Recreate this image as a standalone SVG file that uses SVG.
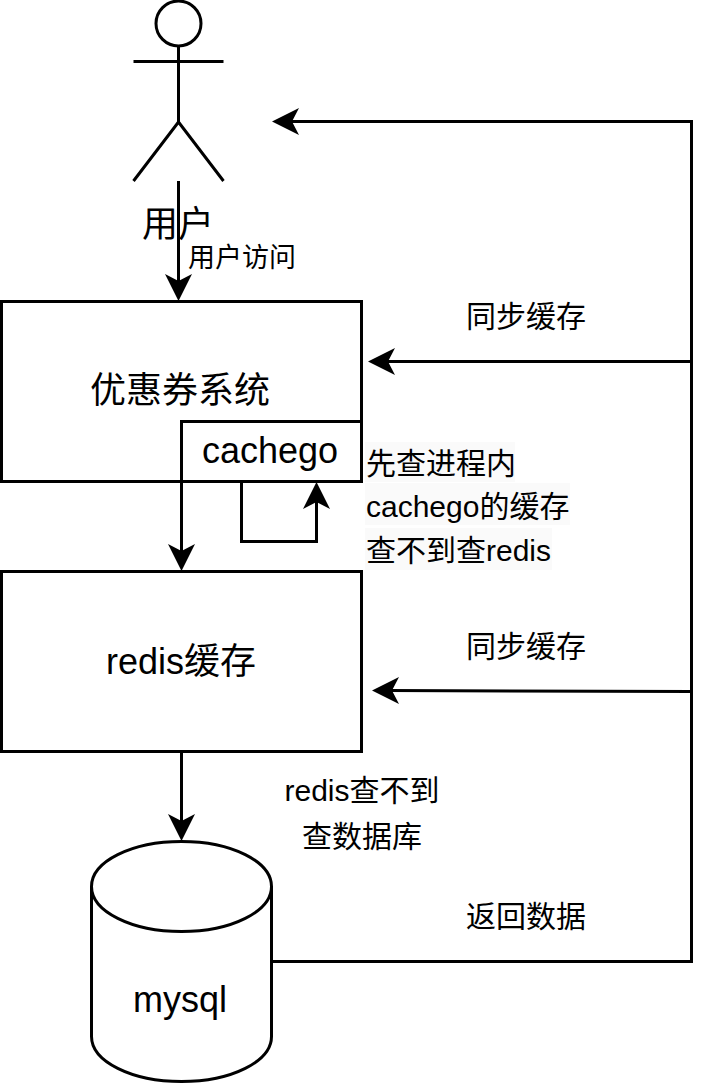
<svg xmlns="http://www.w3.org/2000/svg" width="717" height="1083" viewBox="0 0 717 1083">
<style>
text{font-family:"Liberation Sans","Noto Sans CJK SC",sans-serif;fill:#000}
.s{fill:none;stroke:#000;stroke-width:3}
.b{fill:#fff;stroke:#000;stroke-width:3}
.a{fill:#000;stroke:none}
.bg{fill:#fafafa}
.t36{font-size:36px;text-anchor:middle}
.t30{font-size:30px;text-anchor:middle}
.l{font-size:30px}
</style>
<rect width="717" height="1083" fill="#fff"/>
<g id="user"><circle class="s" cx="178.500" cy="23.500" r="22.500"/><path class="s" d="M178.500 46V122M133.500 61.500H223.500M133.500 181L178.500 122L223.500 181"/><text class="t36" x="178" y="237">用户</text></g>
<g id="coupon"><rect class="b" x="1.500" y="301.500" width="360" height="180"/><text class="t36" x="180" y="403">优惠券系统</text></g>
<g id="cachego"><rect class="b" x="181.500" y="421.500" width="180" height="60"/><text class="t36" x="270" y="463">cachego</text></g>
<g id="redis"><rect class="b" x="1.500" y="571.500" width="360" height="180"/><text class="t36" x="181" y="674">redis缓存</text></g>
<g id="mysql"><path class="b" d="M91.500 886.500C91.500 861.500 131.500 841.500 181.500 841.500C231.500 841.500 271.500 861.500 271.500 886.500V1036.500C271.500 1061.500 231.500 1081.500 181.500 1081.500C131.500 1081.500 91.500 1061.500 91.500 1036.500Z"/><path class="s" d="M91.500 886.500C91.500 911.500 131.500 931.500 181.500 931.500C231.500 931.500 271.500 911.500 271.500 886.500"/><text class="t36" x="180" y="1012">mysql</text></g>
<g id="connectors">
<path class="s" d="M178.500 181V285"/><path class="a" d="M178.500 301L165 274L178.500 281L192 274Z"/>
<path class="s" d="M181.500 481V555"/><path class="a" d="M181.500 571L168 544L181.500 551L195 544Z"/>
<path class="s" d="M241.500 481V541.500H316.500V498"/><path class="a" d="M316.500 482L330 509L316.500 502L303 509Z"/>
<path class="s" d="M181.500 751V825"/><path class="a" d="M181.500 841L168 814L181.500 821L195 814Z"/>
<path class="s" d="M271.500 961.500H691.500V121.500H288"/><path class="a" d="M272 121.500L299 108L292 121.500L299 135Z"/>
<path class="s" d="M691.500 361.500H384"/><path class="a" d="M368 361.500L395 348L388 361.500L395 375Z"/>
<path class="s" d="M691.500 691.500L388 690.500"/><path class="a" d="M372 690.500L399 677L392 690.500L399 704Z"/>
</g>
<g id="labels">
<text x="242" y="267" style="font-size:27px;text-anchor:middle">用户访问</text>
<text class="t30" x="526" y="327">同步缓存</text>
<text class="t30" x="526" y="657">同步缓存</text>
<text class="t30" x="526" y="927">返回数据</text>
<text class="t30" x="362" y="801">redis查不到</text>
<text class="t30" x="362" y="847">查数据库</text>
<rect class="bg" x="365" y="442" width="150" height="40"/>
<rect class="bg" x="365" y="483" width="205" height="42"/>
<rect class="bg" x="365" y="528" width="187" height="42"/>
<text class="l" x="366" y="474">先查进程内</text>
<text class="l" x="366" y="517">cachego的缓存</text>
<text class="l" x="366" y="561">查不到查redis</text>
</g>
</svg>
